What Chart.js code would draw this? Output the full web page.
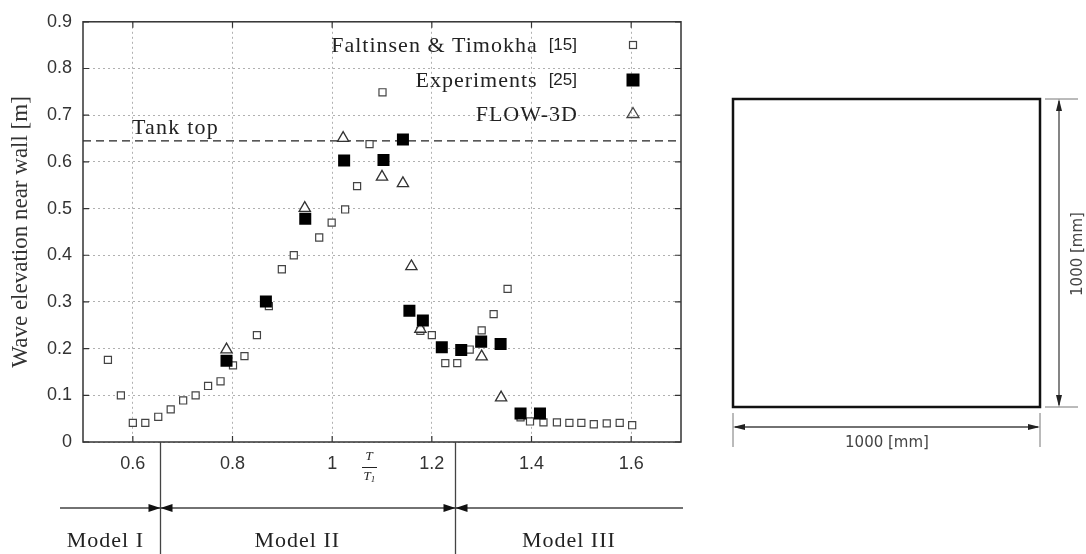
<!DOCTYPE html>
<html>
<head>
<meta charset="utf-8">
<script src="https://cdn.jsdelivr.net/npm/chart.js@4.4.0/dist/chart.umd.min.js"></script>
<style>
  html, body { margin: 0; padding: 0; background: #fff; }
  canvas { display: block; }
</style>
</head>
<body>
<canvas id="chart" width="1086" height="554"></canvas>
<script>
// values
const xTicks = [0.6, 0.8, 1, 1.2, 1.4, 1.6];
const yTicks = [0, 0.1, 0.2, 0.3, 0.4, 0.5, 0.6, 0.7, 0.8, 0.9];

const faltinsenX = [0.550, 0.576, 0.600, 0.625, 0.651, 0.676, 0.701, 0.726, 0.751, 0.776,
                    0.801, 0.824, 0.849, 0.873, 0.899, 0.923, 0.974, 0.999, 1.026, 1.050,
                    1.075, 1.101, 1.177, 1.200, 1.227, 1.251, 1.276, 1.300, 1.324, 1.352,
                    1.378, 1.397, 1.424, 1.451, 1.476, 1.500, 1.525, 1.551, 1.577, 1.602];
const faltinsenY = [0.176, 0.100, 0.041, 0.041, 0.054, 0.070, 0.089, 0.100, 0.120, 0.130,
                    0.164, 0.184, 0.229, 0.291, 0.370, 0.400, 0.438, 0.470, 0.498, 0.548,
                    0.638, 0.749, 0.238, 0.229, 0.169, 0.169, 0.198, 0.239, 0.274, 0.328,
                    0.053, 0.044, 0.042, 0.042, 0.041, 0.041, 0.038, 0.040, 0.041, 0.036];

const experimentsX = [0.788, 0.867, 0.946, 1.024, 1.103, 1.142, 1.155, 1.182, 1.220, 1.259, 1.299, 1.338, 1.378, 1.417];
const experimentsY = [0.174, 0.301, 0.478, 0.603, 0.604, 0.648, 0.281, 0.260, 0.203, 0.197, 0.215, 0.210, 0.061, 0.061];

const flowX = [0.788, 0.945, 1.022, 1.100, 1.142, 1.159, 1.177, 1.300, 1.339];
const flowY = [0.198, 0.501, 0.651, 0.568, 0.554, 0.376, 0.242, 0.183, 0.095];

const tankTop = 0.645;
const modelBounds = [0.655, 1.246];
const modelLabels = ['Model I', 'Model II', 'Model III'];
const modelLabelX = [0.545, 0.93, 1.475];

const serif = '"Liberation Serif", "Times New Roman", serif';
const sans = '"Liberation Sans", Arial, sans-serif';

function pts(xs, ys) {
  return xs.map((x, i) => ({ x: x, y: ys[i] }));
}

function arrowHead(ctx, x, y, dx, dy, len, half) {
  // tip at (x, y), pointing along (dx, dy)
  const bx = x - dx * len, by = y - dy * len;
  ctx.beginPath();
  ctx.moveTo(x, y);
  ctx.lineTo(bx - dy * half, by + dx * half);
  ctx.lineTo(bx + dy * half, by - dx * half);
  ctx.closePath();
  ctx.fill();
}

const extras = {
  id: 'extras',
  beforeDatasetsDraw(chart) {
    const ctx = chart.ctx;
    const a = chart.chartArea;
    const ys = chart.scales.y;
    const yy = ys.getPixelForValue(tankTop);
    ctx.save();
    ctx.strokeStyle = '#222';
    ctx.lineWidth = 1.3;
    ctx.setLineDash([8, 5]);
    ctx.beginPath();
    ctx.moveTo(a.left, yy);
    ctx.lineTo(a.right, yy);
    ctx.stroke();
    ctx.setLineDash([]);
    ctx.fillStyle = '#222';
    ctx.font = '22px ' + serif;
    ctx.letterSpacing = '1.2px';
    ctx.textAlign = 'left';
    ctx.textBaseline = 'alphabetic';
    ctx.fillText('Tank top', a.left + 49, yy - 7);
    ctx.restore();
  },
  afterDraw(chart) {
    const ctx = chart.ctx;
    const a = chart.chartArea;
    const xs = chart.scales.x;
    const ys = chart.scales.y;
    ctx.save();

    // frame with inward ticks
    ctx.strokeStyle = '#333';
    ctx.lineWidth = 1.5;
    ctx.strokeRect(a.left, a.top, a.right - a.left, a.bottom - a.top);
    ctx.lineWidth = 1.2;
    ctx.beginPath();
    xTicks.forEach(v => {
      const px = xs.getPixelForValue(v);
      ctx.moveTo(px, a.bottom); ctx.lineTo(px, a.bottom - 6);
      ctx.moveTo(px, a.top); ctx.lineTo(px, a.top + 6);
    });
    yTicks.forEach(v => {
      const py = ys.getPixelForValue(v);
      ctx.moveTo(a.left, py); ctx.lineTo(a.left + 6, py);
      ctx.moveTo(a.right, py); ctx.lineTo(a.right - 6, py);
    });
    ctx.stroke();

    // legend
    const legend = [
      { main: 'Faltinsen & Timokha', ref: '[15]', y: 45 },
      { main: 'Experiments', ref: '[25]', y: 80 },
      { main: 'FLOW-3D', ref: '', y: 114 }
    ];
    const textRight = 577, markX = 633;
    ctx.fillStyle = '#222';
    ctx.textBaseline = 'middle';
    ctx.textAlign = 'right';
    legend.forEach(r => {
      let right = textRight;
      if (r.ref) {
        ctx.letterSpacing = '0px';
        ctx.font = '17px ' + sans;
        ctx.fillText(r.ref, right, r.y);
        right -= ctx.measureText(r.ref).width + 12;
      }
      ctx.letterSpacing = '1px';
      ctx.font = '22px ' + serif;
      ctx.fillText(r.main, right + 1, r.y + 1);
    });
    ctx.letterSpacing = '0px';
    // legend markers
    ctx.strokeStyle = '#444';
    ctx.lineWidth = 1.2;
    ctx.fillStyle = '#fff';
    ctx.fillRect(markX - 3.5, 45 - 3.5, 7, 7);
    ctx.strokeRect(markX - 3.5, 45 - 3.5, 7, 7);
    ctx.fillStyle = '#000';
    ctx.fillRect(markX - 6.5, 80 - 6.5, 13, 13);
    ctx.lineWidth = 1.3;
    ctx.beginPath();
    ctx.moveTo(markX, 114 - 6.5);
    ctx.lineTo(markX + 6, 114 + 3.5);
    ctx.lineTo(markX - 6, 114 + 3.5);
    ctx.closePath();
    ctx.stroke();

    // T / T1 fraction
    const fx = 369;
    ctx.fillStyle = '#222';
    ctx.textAlign = 'center';
    ctx.font = 'italic 13px ' + serif;
    ctx.fillText('T', fx, 457);
    ctx.fillText('T', fx - 2, 477);
    ctx.font = 'italic 9px ' + serif;
    ctx.fillText('1', fx + 4, 480);
    ctx.strokeStyle = '#222';
    ctx.lineWidth = 1;
    ctx.beginPath();
    ctx.moveTo(fx - 7, 467.5);
    ctx.lineTo(fx + 8, 467.5);
    ctx.stroke();

    // model ranges
    const lineY = 508;
    ctx.strokeStyle = '#444';
    ctx.fillStyle = '#111';
    ctx.lineWidth = 1.3;
    ctx.beginPath();
    ctx.moveTo(60, lineY);
    ctx.lineTo(683, lineY);
    modelBounds.forEach(b => {
      const px = Math.round(xs.getPixelForValue(b)) + 0.5;
      ctx.moveTo(px, a.bottom);
      ctx.lineTo(px, 554);
    });
    ctx.stroke();
    modelBounds.forEach(b => {
      const px = Math.round(xs.getPixelForValue(b)) + 0.5;
      arrowHead(ctx, px, lineY, 1, 0, 12, 4);
      arrowHead(ctx, px, lineY, -1, 0, 12, 4);
    });
    ctx.font = '22px ' + serif;
    ctx.letterSpacing = '1px';
    ctx.textBaseline = 'alphabetic';
    ctx.fillStyle = '#222';
    modelLabels.forEach((t, i) => {
      ctx.fillText(t, xs.getPixelForValue(modelLabelX[i]), 547);
    });
    ctx.letterSpacing = '0px';

    // tank sketch on the right
    const L = 733, R = 1040, T = 99, B = 407;
    ctx.strokeStyle = '#111';
    ctx.lineWidth = 2.5;
    ctx.strokeRect(L, T, R - L, B - T);
    ctx.strokeStyle = '#777';
    ctx.lineWidth = 1;
    ctx.beginPath();
    ctx.moveTo(1045, T); ctx.lineTo(1078, T);
    ctx.moveTo(1045, B); ctx.lineTo(1078, B);
    ctx.moveTo(L, 413); ctx.lineTo(L, 447);
    ctx.moveTo(R, 413); ctx.lineTo(R, 447);
    ctx.stroke();
    ctx.strokeStyle = '#444';
    ctx.lineWidth = 1.3;
    ctx.beginPath();
    ctx.moveTo(1059, T + 2); ctx.lineTo(1059, B - 2);
    ctx.moveTo(L + 2, 427); ctx.lineTo(R - 2, 427);
    ctx.stroke();
    ctx.fillStyle = '#222';
    arrowHead(ctx, 1059, T, 0, -1, 12, 3);
    arrowHead(ctx, 1059, B, 0, 1, 12, 3);
    arrowHead(ctx, L, 427, -1, 0, 12, 3);
    arrowHead(ctx, R, 427, 1, 0, 12, 3);
    ctx.fillStyle = '#444';
    ctx.font = '15px "DejaVu Sans", sans-serif';
    ctx.textAlign = 'center';
    ctx.textBaseline = 'middle';
    ctx.fillText('1000 [mm]', 887, 443);
    ctx.translate(1078, 254);
    ctx.rotate(-Math.PI / 2);
    ctx.fillText('1000 [mm]', 0, 0);
    ctx.restore();
  }
};

const chart = new Chart(document.querySelector('#chart').getContext('2d'), {
  type: 'scatter',
  data: {
    datasets: [
      {
        label: 'Experiments [25]',
        data: pts(experimentsX, experimentsY),
        order: 0,
        pointStyle: 'rect',
        pointRadius: 8.5,
        pointBackgroundColor: '#000',
        pointBorderColor: '#000',
        pointBorderWidth: 0
      },
      {
        label: 'FLOW-3D',
        data: pts(flowX, flowY),
        order: 1,
        pointStyle: 'triangle',
        pointRadius: 6.5,
        pointBackgroundColor: 'rgba(255,255,255,0.9)',
        pointBorderColor: '#333',
        pointBorderWidth: 1.3
      },
      {
        label: 'Faltinsen & Timokha [15]',
        data: pts(faltinsenX, faltinsenY),
        order: 2,
        pointStyle: 'rect',
        pointRadius: 5,
        pointBackgroundColor: '#fff',
        pointBorderColor: '#444',
        pointBorderWidth: 1.2
      }
    ]
  },
  options: {
    responsive: false,
    animation: false,
    events: [],
    layout: { padding: { top: 15, right: 405, left: 0, bottom: 0 } },
    plugins: {
      legend: { display: false },
      tooltip: { enabled: false }
    },
    scales: {
      x: {
        type: 'linear',
        min: 0.5,
        max: 1.7,
        afterBuildTicks: s => { s.ticks = xTicks.map(v => ({ value: v })); },
        afterFit: s => { s.height = 112; },
        grid: { color: '#b0b0b0', lineWidth: 1, drawTicks: false },
        border: { display: false, dash: [2, 3] },
        ticks: {
          padding: 11,
          color: '#333',
          font: { family: sans, size: 18 },
          callback: v => String(v)
        }
      },
      y: {
        type: 'linear',
        min: 0,
        max: 0.9,
        afterBuildTicks: s => { s.ticks = yTicks.map(v => ({ value: v })); },
        afterFit: s => { s.width = 83; },
        grid: { color: '#b0b0b0', lineWidth: 1, drawTicks: false },
        border: { display: false, dash: [2, 3] },
        ticks: {
          padding: 11,
          color: '#333',
          font: { family: sans, size: 18 },
          callback: v => String(v)
        },
        title: {
          display: true,
          text: 'Wave elevation near wall [m]',
          color: '#333',
          font: { family: serif, size: 23 },
          padding: { top: 7, bottom: 0 }
        }
      }
    }
  },
  plugins: [extras]
});
</script>
</body>
</html>
